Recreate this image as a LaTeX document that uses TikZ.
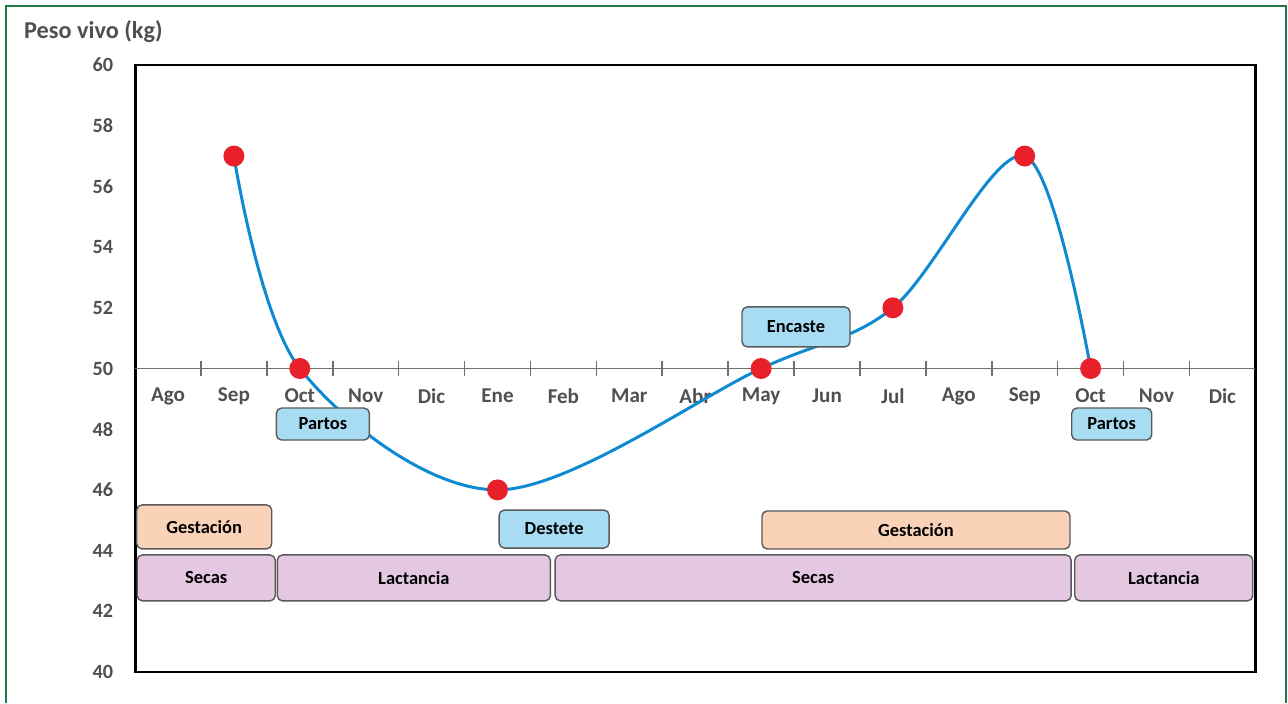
\documentclass[tikz,border=0pt]{standalone}
\usepackage{fontspec}
\setmainfont{Carlito}
\usepackage{xcolor}
\usetikzlibrary{positioning}
\definecolor{greenframe}{HTML}{1F7A45}
\definecolor{curveblue}{HTML}{0E8AD2}
\definecolor{dotred}{HTML}{E8202A}
\definecolor{axisgray}{HTML}{707070}
\definecolor{labelgray}{HTML}{505050}
\definecolor{eventfill}{HTML}{A8DCF3}
\definecolor{gestfill}{HTML}{F9D2B8}
\definecolor{phasefill}{HTML}{E4C7E1}

\begin{document}
\begin{tikzpicture}[
    ylab/.style={anchor=east, text=labelgray, font=\bfseries\fontsize{11.5}{13}\selectfont},
    mlab/.style={text=labelgray, font=\bfseries\fontsize{12}{14}\selectfont},
    tag/.style={draw=black!65, line width=0.8pt, rounded corners=3pt, inner sep=1pt, align=center, font=\bfseries\fontsize{10.5}{12}\selectfont},
    event/.style={tag, fill=eventfill, minimum height=0.64cm},
    gest/.style={tag, fill=gestfill, minimum height=0.8cm},
    phase/.style={tag, fill=phasefill, minimum height=0.92cm},
    pt/.style={circle, fill=dotred, inner sep=0pt, minimum size=0.42cm}
  ]
  \useasboundingbox (0,0) rectangle (25.76,14.06);
  \draw[greenframe, line width=1.6pt] (0.12,0) -- (0.12,13.94) -- (25.72,13.94) -- (25.72,0);
  \node[anchor=west, text=labelgray, font=\bfseries\fontsize{13.8}{16}\selectfont] (title) at (0.36,13.42) {Peso vivo (kg)};

  \begin{scope}[shift={(3.36,0.62)}, x=1.318cm, y=0.607cm]
    % plot frame and axis at 50 kg
    \draw[line width=1.7pt] (-0.5,0) rectangle (16.5,20);
    \draw[axisgray, line width=1.1pt] (-0.5,10) -- (16.5,10);
    \foreach \t in {0,...,15}
      \draw[axisgray, line width=0.9pt] (\t+0.5,9.74) -- (\t+0.5,10.26);

    \foreach \v in {40,42,...,60}
      \node[ylab] (y\v) at (-0.74,{\v-40}) {\v};
    \foreach \m [count=\i from 0] in {Ago,Sep,Oct,Nov,Dic,Ene,Feb,Mar,Abr,May,Jun,Jul,Ago,Sep,Oct,Nov,Dic}
      \node[mlab] (m\i) at (\i,9.09) {\m};

    % weight points
    \coordinate (sep1) at (1,17);
    \coordinate (oct1) at (2,10);
    \coordinate (ene) at (5,6);
    \coordinate (may) at (9,10);
    \coordinate (jul) at (11,12);
    \coordinate (sep2) at (13,17);
    \coordinate (oct2) at (14,10);

    \draw[curveblue, line width=1.7pt] plot[smooth, tension=0.55]
      coordinates {(sep1) (oct1) (ene) (may) (jul) (sep2) (oct2)};
    \foreach \p in {sep1,oct1,ene,may,jul,sep2,oct2}
      \node[pt] (d\p) at (\p) {};

    % events
    \node[event, minimum width=1.86cm] (partos1) at (2.35,8.17) {Partos};
    \node[event, minimum width=2.2cm, minimum height=0.76cm] (destete) at (5.86,4.71) {Destete};
    \node[event, minimum width=2.16cm, minimum height=0.8cm] (encaste) at (9.53,11.37) {Encaste};
    \node[event, minimum width=1.6cm] (partos2) at (14.32,8.17) {Partos};

    % stages
    \node[gest, minimum width=2.7cm, minimum height=0.88cm] (gest1) at (0.55,4.78) {Gestación};
    \node[gest, minimum width=6.16cm, minimum height=0.76cm] (gest2) at (11.35,4.68) {Gestación};
    \node[phase, minimum width=2.76cm] (secas1) at (0.58,3.1) {Secas};
    \node[phase, minimum width=5.46cm] (lact1) at (3.73,3.1) {Lactancia};
    \node[phase, minimum width=10.32cm] (secas2) at (9.79,3.1) {Secas};
    \node[phase, minimum width=3.56cm] (lact2) at (15.11,3.1) {Lactancia};
  \end{scope}
\end{tikzpicture}
\end{document}
